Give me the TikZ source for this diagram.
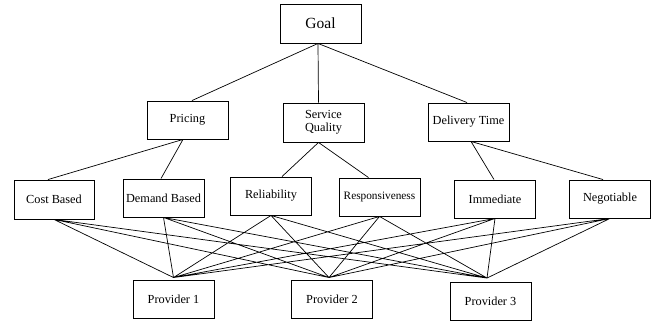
\documentclass[tikz,border=0pt]{standalone}
\usepackage{fontspec}
\setmainfont{Liberation Serif}
\usepackage{tikz}

\tikzset{
  crit/.style={draw, line width=0.9pt, minimum width=81pt, minimum height=38pt,
    inner sep=1pt, font=\fontsize{12.3}{13.5}\selectfont}
}

\begin{document}
\begin{tikzpicture}[x=1pt,y=-1pt]
\useasboundingbox (0,0) rectangle (667,323);
\node[crit, minimum height=39pt, font=\fontsize{15.5}{17}\selectfont] (goal) at (320.5,23.5) {Goal};
\node[crit] (pri) at (187.5,120) {Pricing};
\node[crit, minimum height=39pt, align=left] (sq) at (323.5,122.5) {Service\\Quality};
\node[crit] (dt) at (468.5,122) {Delivery Time};
\node[crit, minimum width=80pt, minimum height=39pt] (cost) at (54,199.5) {Cost Based};
\node[crit] (dem) at (163.5,198) {Demand Based};
\node[crit] (rel) at (271,196) {Reliability};
\node[crit, font=\fontsize{11.3}{13}\selectfont] (resp) at (379.5,197) {Responsiveness};
\node[crit] (imm) at (495,199) {Immediate};
\node[crit] (neg) at (610,199) {Negotiable};
\node[crit] (p1) at (173.5,299) {Provider 1};
\node[crit] (p2) at (332,299) {Provider 2};
\node[crit] (p3) at (490.5,301.5) {Provider 3};
\coordinate (t1) at ([yshift=2pt]p1.north);
\coordinate (t2) at ([xshift=-3pt,yshift=2pt]p2.north);
\coordinate (t3) at ([xshift=-3.5pt,yshift=4pt]p3.north);
\draw[line width=0.7pt]
([xshift=-2.5pt]goal.south) -- ([xshift=4.5pt]pri.north)
([xshift=-2.5pt]goal.south) -- ([xshift=-5pt]sq.north)
([xshift=-2.5pt]goal.south) -- ([xshift=-1.5pt]dt.north)
([xshift=-4.5pt]pri.south) -- ([xshift=-6pt]cost.north)
([xshift=-4.5pt]pri.south) -- ([xshift=-2.5pt]dem.north)
([xshift=-5pt]sq.south) -- ([xshift=11pt]rel.north)
([xshift=-5pt]sq.south) -- ([xshift=-11pt]resp.north)
([xshift=2.5pt]dt.south) -- ([xshift=-1pt]imm.north)
([xshift=2.5pt]dt.south) -- ([xshift=-7pt]neg.north);
\draw[line width=0.7pt]
(cost.south) -- (t1) (cost.south) -- (t2) (cost.south) -- (t3)
(dem.south) -- (t1) (dem.south) -- (t2) (dem.south) -- (t3)
(rel.south) -- (t1) (rel.south) -- (t2) (rel.south) -- (t3)
(resp.south) -- (t1) (resp.south) -- (t2) (resp.south) -- (t3)
(imm.south) -- (t1) (imm.south) -- (t2) (imm.south) -- (t3)
(neg.south) -- (t1) (neg.south) -- (t2) (neg.south) -- (t3);
\end{tikzpicture}
\end{document}
